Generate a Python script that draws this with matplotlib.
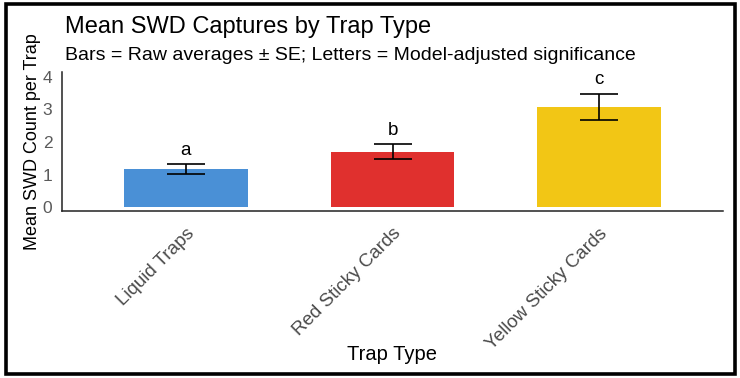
import matplotlib
matplotlib.use("Agg")
import matplotlib.pyplot as plt
from matplotlib.patches import Rectangle
import numpy as np

plt.rcParams['font.family'] = ['Liberation Sans', 'DejaVu Sans']

# Data
categories = ["Liquid Traps", "Red Sticky Cards", "Yellow Sticky Cards"]
means = [1.17, 1.70, 3.08]
se = [0.15, 0.23, 0.40]
letters = ["a", "b", "c"]
colors = ["#4A90D6", "#E0302E", "#F2C615"]
yticks = [0, 1, 2, 3, 4]

fig = plt.figure(figsize=(7.4, 3.78), dpi=100)
fig.patch.set_facecolor("white")

W, H = 740.0, 378.0
ax = fig.add_axes([62 / W, 1 - 211 / H, (723 - 62) / W, (211 - 72) / H])
ax.set_facecolor("white")

x = np.arange(len(categories))
ax.bar(x, means, width=0.6, color=colors, zorder=2)
ax.errorbar(x, means, yerr=se, fmt="none", ecolor="black", elinewidth=1.2,
            capsize=14, capthick=1.2, zorder=3)
for xi, m, s, lab in zip(x, means, se, letters):
    ax.text(xi, m + s + 0.43, lab, ha="center", va="center", fontsize=13.5, color="black")

ax.set_xlim(-0.6, 2.6)
ax.set_ylim(-0.12, 4.15)
ax.set_yticks(yticks)
ax.set_yticklabels([str(t) for t in yticks], fontsize=12.5, color="#5a5a5a")
ax.set_xticks(x)
ax.set_xticklabels(categories, rotation=45, ha="right", va="top",
                   rotation_mode="anchor", fontsize=13.5, color="#4a4a4a")
ax.tick_params(axis="y", length=0, pad=7)
ax.tick_params(axis="x", length=0, pad=10)

for sp in ["top", "right"]:
    ax.spines[sp].set_visible(False)
for sp in ["left", "bottom"]:
    ax.spines[sp].set_linewidth(1.1)
    ax.spines[sp].set_color("#222222")

fig.text(65 / W, 1 - 33 / H, "Mean SWD Captures by Trap Type", fontsize=17,
         ha="left", va="baseline", color="black")
fig.text(65 / W, 1 - 60 / H, "Bars = Raw averages \u00b1 SE; Letters = Model-adjusted significance",
         fontsize=14, ha="left", va="baseline", color="black")
fig.text(33 / W, 1 - 141.5 / H, "Mean SWD Count per Trap", rotation=90,
         fontsize=13, ha="center", va="center", color="black")
fig.text(392 / W, 1 - 355 / H, "Trap Type", fontsize=14.5, ha="center",
         va="center", color="black")

border = Rectangle((6 / W, 1 - 374 / H), (734.5 - 6) / W, (374 - 4) / H,
                   transform=fig.transFigure, fill=False, edgecolor="black",
                   linewidth=2.6, zorder=10)
fig.patches.append(border)

fig.savefig("out.png", dpi=100, facecolor="white")
